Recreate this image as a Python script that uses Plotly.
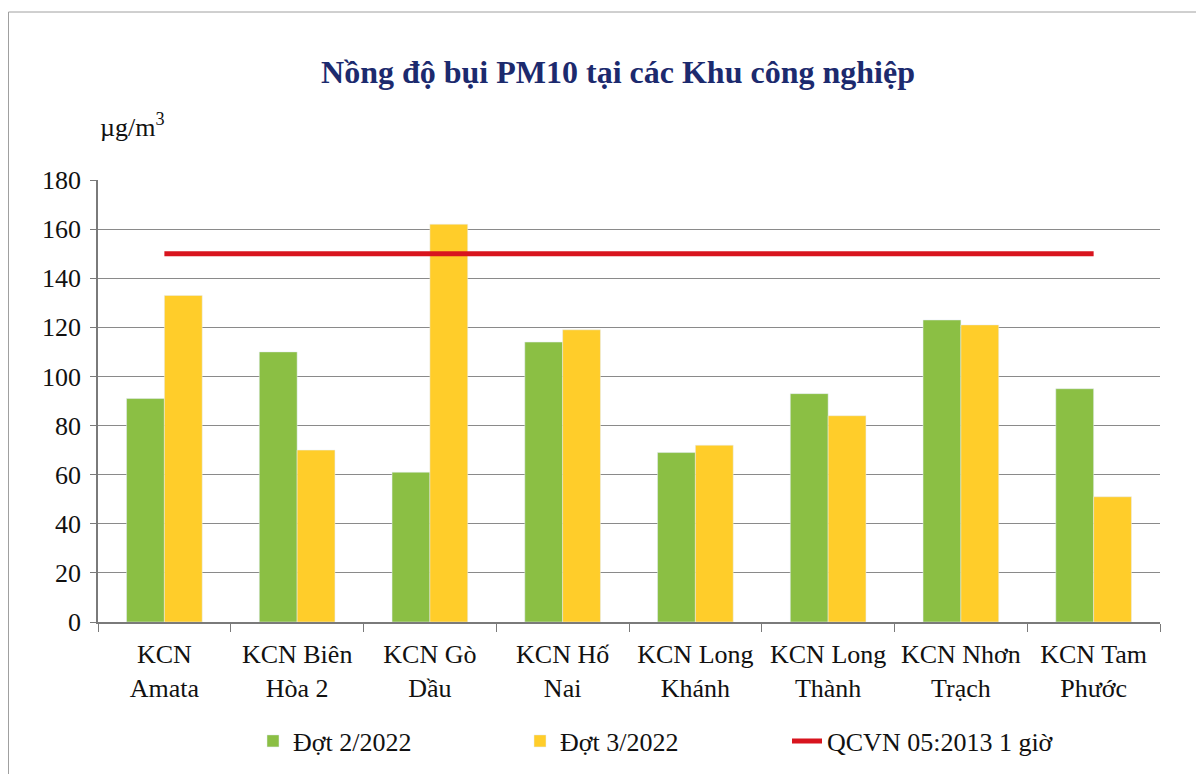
import plotly.graph_objects as go

categories = ["KCN<br>Amata", "KCN Biên<br>Hòa 2", "KCN Gò<br>Dầu", "KCN Hố<br>Nai",
              "KCN Long<br>Khánh", "KCN Long<br>Thành", "KCN Nhơn<br>Trạch", "KCN Tam<br>Phước"]
dot2_2022 = [91, 110, 61, 114, 69, 93, 123, 95]
dot3_2022 = [133, 70, 162, 119, 72, 84, 121, 51]
qcvn_1h = [150] * len(categories)

series_names = ["Đợt 2/2022", "Đợt 3/2022", "QCVN 05:2013 1 giờ"]
y_ticks = [0, 20, 40, 60, 80, 100, 120, 140, 160, 180]

GREEN = "#8bbf44"
YELLOW = "#ffcd2a"
RED = "#d8141e"
FONT = "Liberation Serif"

fig = go.Figure()
fig.add_trace(go.Bar(x=categories, y=dot2_2022, name=series_names[0], marker_color=GREEN))
fig.add_trace(go.Bar(x=categories, y=dot3_2022, name=series_names[1], marker_color=YELLOW))
fig.add_trace(go.Scatter(x=categories, y=qcvn_1h, name=series_names[2], mode="lines",
                         line=dict(color=RED, width=5)))

# page is drawn with an 8px body offset
OFF = 8
W, H = 1204 - OFF, 774 - OFF
L, R, T, B = 98 - OFF, 44, 180 - OFF, 152
pw, ph = W - L - R, H - T - B


def px_x(x):  # screenshot px -> paper
    return (x - OFF - L) / pw


def px_y(y):
    return (H - B - (y - OFF)) / ph


def cy(y):  # screenshot px -> container
    return 1 - (y - OFF) / H


fig.update_layout(
    width=W, height=H,
    margin=dict(l=L, r=R, t=T, b=B),
    paper_bgcolor="white", plot_bgcolor="white",
    font=dict(family=FONT, size=26, color="#111111"),
    bargap=0.43, bargroupgap=0,
    title=dict(text="<b>Nồng độ bụi PM10 tại các Khu công nghiệp</b>",
               font=dict(family=FONT, size=32, color="#1c2a6e"),
               x=(618 - OFF) / W, xref="container", xanchor="center",
               y=cy(72), yref="container", yanchor="middle"),
    legend=dict(orientation="h", x=px_x(253), xanchor="left",
                y=cy(741), yref="container", yanchor="middle",
                entrywidth=222, entrywidthmode="pixels",
                font=dict(family=FONT, size=26, color="#111111"),
                bgcolor="rgba(0,0,0,0)"),
    showlegend=True,
)

fig.update_xaxes(showline=True, linecolor="#7a7a7a", linewidth=1.5,
                 ticks="outside", tickson="boundaries", ticklen=8, tickcolor="#7a7a7a",
                 ticklabelstandoff=8,
                 showgrid=False, tickfont=dict(family=FONT, size=26, color="#111111"))
fig.update_yaxes(range=[0, 180], tickvals=y_ticks, showline=True, linecolor="#7a7a7a",
                 linewidth=1.5, ticks="outside", ticklen=6, tickcolor="#7a7a7a",
                 showgrid=True, gridcolor="#8a8a8a", gridwidth=1.3, zeroline=False,
                 ticklabelstandoff=4,
                 tickfont=dict(family=FONT, size=26, color="#111111"))

fig.add_annotation(text="µg/m<sup>3</sup>", xref="paper", yref="paper",
                   x=px_x(98), y=px_y(125), xanchor="left", yanchor="middle", showarrow=False,
                   font=dict(family=FONT, size=26, color="#111111"))

fig.add_shape(type="rect", xref="paper", yref="paper",
              x0=px_x(8.5), x1=px_x(1215), y0=px_y(790), y1=px_y(12),
              line=dict(color="#a0a0a0", width=1), fillcolor="rgba(0,0,0,0)", layer="below")

fig.write_html("out.html")
